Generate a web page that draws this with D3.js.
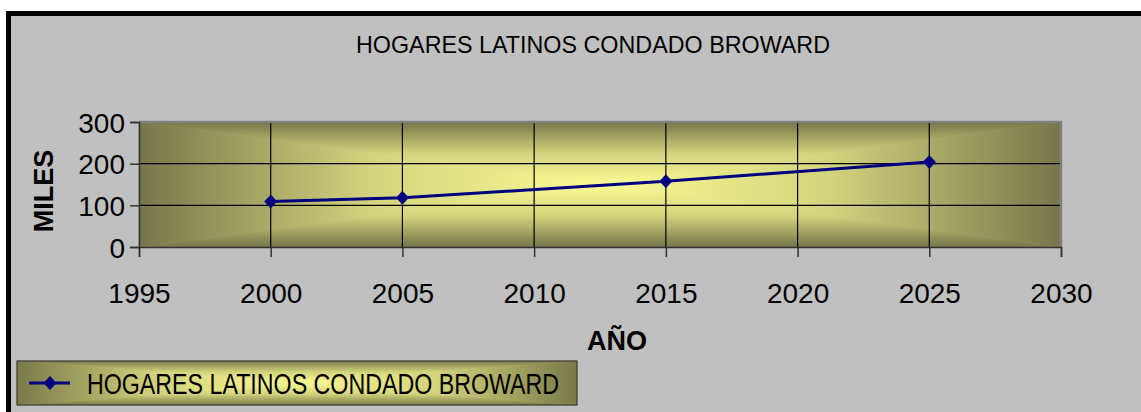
<!DOCTYPE html>
<html>
<head>
<meta charset="utf-8">
<script src="https://cdn.jsdelivr.net/npm/d3@7"></script>
<style>
	body { margin: 0; background: #fff; }
	svg { display: block; font-family: "Liberation Sans", Arial, sans-serif; }
</style>
</head>
<body>
<svg id="chart" width="1141" height="412"></svg>
<script>
// data (thousands of households)
const years = [2000, 2005, 2015, 2025];
const households = [109, 118, 158, 204];
const x_ticks = [1995, 2000, 2005, 2010, 2015, 2020, 2025, 2030];
const y_ticks = [0, 100, 200, 300];
const series_name = "HOGARES LATINOS CONDADO BROWARD";

const svg = d3.select("#chart");
const defs = svg.append("defs");

// frame
svg.append("rect")
	.attr("x", 8.5).attr("y", 13.5)
	.attr("width", 1150).attr("height", 420)
	.attr("fill", "#c0c0c0")
	.attr("stroke", "#000").attr("stroke-width", 5);

// Excel style "from center" fill: four triangles, each with a ramp edge -> center
function rectGradient(g, x, y, w, h, id, edge, center) {
	const cx = x + w / 2, cy = y + h / 2;
	const mid = d3.interpolateRgb(edge, center)(0.7);
	const parts = [
		{ name: "t", pts: [[x, y], [x + w, y], [cx, cy]], g: [cx, y, cx, cy] },
		{ name: "b", pts: [[x, y + h], [x + w, y + h], [cx, cy]], g: [cx, y + h, cx, cy] },
		{ name: "l", pts: [[x, y], [x, y + h], [cx, cy]], g: [x, cy, cx, cy] },
		{ name: "r", pts: [[x + w, y], [x + w, y + h], [cx, cy]], g: [x + w, cy, cx, cy] }
	];
	parts.forEach(p => {
		const lg = defs.append("linearGradient")
			.attr("id", id + p.name)
			.attr("gradientUnits", "userSpaceOnUse")
			.attr("x1", p.g[0]).attr("y1", p.g[1])
			.attr("x2", p.g[2]).attr("y2", p.g[3]);
		lg.append("stop").attr("offset", 0).attr("stop-color", edge);
		lg.append("stop").attr("offset", 0.5).attr("stop-color", mid);
		lg.append("stop").attr("offset", 1).attr("stop-color", center);
		g.append("polygon")
			.attr("points", p.pts.map(d => d.join(",")).join(" "))
			.attr("fill", "url(#" + id + p.name + ")")
			.attr("stroke", "url(#" + id + p.name + ")")
			.attr("stroke-width", 0.6);
	});
}

// title
svg.append("text")
	.attr("x", 593).attr("y", 53)
	.attr("text-anchor", "middle")
	.attr("font-size", 24)
	.attr("textLength", 474).attr("lengthAdjust", "spacingAndGlyphs")
	.text(series_name);

const plot = { left: 139, right: 1061, top: 122, bottom: 247 };

const x = d3.scaleLinear().domain([1995, 2030]).range([plot.left, plot.right]);
const y = d3.scaleLinear().domain([0, 300]).range([plot.bottom, plot.top]);

// plot area
rectGradient(svg.append("g"), plot.left, plot.top, plot.right - plot.left, plot.bottom - plot.top,
	"plotfill", "#76764a", "#fbfb94");

// grid
svg.append("g").selectAll("line")
	.data(y_ticks.filter(d => d > 0 && d < 300))
	.enter().append("line")
	.attr("x1", plot.left).attr("x2", plot.right)
	.attr("y1", d => y(d)).attr("y2", d => y(d))
	.attr("stroke", "#000").attr("stroke-width", 1.2);

svg.append("g").selectAll("line")
	.data(x_ticks.filter(d => d > 1995 && d < 2030))
	.enter().append("line")
	.attr("x1", d => x(d)).attr("x2", d => x(d))
	.attr("y1", plot.top).attr("y2", plot.bottom)
	.attr("stroke", "#000").attr("stroke-width", 1.2);

// plot border (top and right)
svg.append("path")
	.attr("d", `M${plot.left},${plot.top}H${plot.right}V${plot.bottom}`)
	.attr("fill", "none").attr("stroke", "#808080").attr("stroke-width", 2.5);

// axes
const x_axis = svg.append("g")
	.attr("transform", `translate(0,${plot.bottom})`)
	.call(d3.axisBottom(x).tickValues(x_ticks).tickFormat(d3.format("d")).tickSize(10).tickPadding(26));
const y_axis = svg.append("g")
	.attr("transform", `translate(${plot.left},0)`)
	.call(d3.axisLeft(y).tickValues(y_ticks).tickSize(9).tickPadding(5));

[x_axis, y_axis].forEach(a => {
	a.select(".domain").attr("stroke", "#333").attr("stroke-width", 1.5);
	a.selectAll(".tick line").attr("stroke", "#333").attr("stroke-width", 1.5);
	a.selectAll("text").attr("font-size", 28).attr("fill", "#000").attr("font-family", "Liberation Sans, Arial, sans-serif");
});
y_axis.selectAll("text").attr("dy", "0.36em");

// axis titles
svg.append("text")
	.attr("transform", "translate(53,191) rotate(-90)")
	.attr("text-anchor", "middle")
	.attr("font-size", 27).attr("font-weight", "bold")
	.text("MILES");

svg.append("text")
	.attr("x", 617).attr("y", 350)
	.attr("text-anchor", "middle")
	.attr("font-size", 27).attr("font-weight", "bold")
	.text("AÑO");

// series
const points = years.map((yr, i) => [yr, households[i]]);
const line = d3.line().x(d => x(d[0])).y(d => y(d[1]));
const diamond = "M0,-7L6.5,0L0,7L-6.5,0Z";

svg.append("path")
	.datum(points)
	.attr("d", line)
	.attr("fill", "none").attr("stroke", "#000080").attr("stroke-width", 3);

svg.append("g").selectAll("path")
	.data(points)
	.enter().append("path")
	.attr("d", diamond)
	.attr("transform", d => `translate(${x(d[0])},${y(d[1])})`)
	.attr("fill", "#000080");

// legend
const legend = svg.append("g");
rectGradient(legend, 17, 361, 560, 44, "legfill", "#79794a", "#f9f992");
legend.append("rect")
	.attr("x", 17).attr("y", 361).attr("width", 560).attr("height", 44)
	.attr("fill", "none").attr("stroke", "#333").attr("stroke-width", 1);
legend.append("line")
	.attr("x1", 29).attr("x2", 70).attr("y1", 383).attr("y2", 383)
	.attr("stroke", "#000080").attr("stroke-width", 3);
legend.append("path")
	.attr("d", diamond)
	.attr("transform", "translate(50,383)")
	.attr("fill", "#000080");
legend.append("text")
	.attr("x", 87).attr("y", 394)
	.attr("font-size", 29)
	.attr("textLength", 472).attr("lengthAdjust", "spacingAndGlyphs")
	.text(series_name);
</script>
</body>
</html>
